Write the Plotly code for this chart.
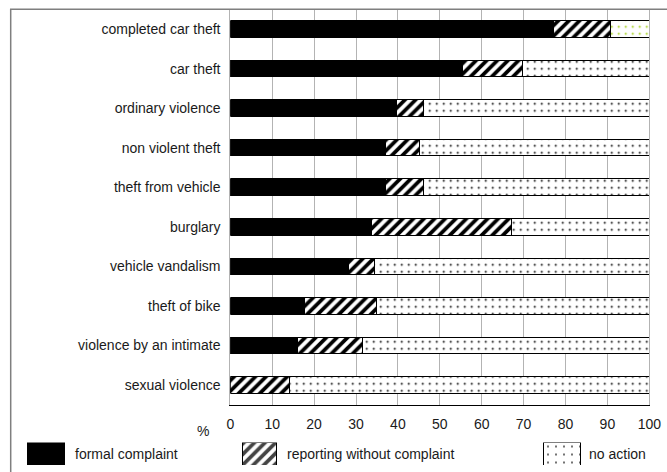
import plotly.graph_objects as go

W, H = 667, 472

categories = [
    "completed car theft", "car theft", "ordinary violence", "non violent theft",
    "theft from vehicle", "burglary", "vehicle vandalism", "theft of bike",
    "violence by an intimate", "sexual violence",
]
formal_complaint = [77.1, 55.5, 39.7, 37.0, 37.0, 33.8, 28.1, 17.6, 16.0, 0.0]
reporting_without_complaint = [13.7, 14.3, 6.4, 8.1, 9.2, 33.3, 6.2, 17.2, 15.6, 14.2]
no_action = [9.2, 30.2, 53.9, 54.9, 53.8, 32.9, 65.7, 65.2, 68.4, 85.8]
x_ticks = list(range(0, 101, 10))
series_names = ["formal complaint", "reporting without complaint", "no action"]

FONT = "Liberation Sans, Arial, sans-serif"
TXT = "#1a1a1a"
GRID = "#b3b3b3"

# pixel geometry -> paper
def px(x):
    return x / W

def py(y):
    return 1 - y / H

plot_l, plot_r, plot_t, plot_b = 230.3, 649.3, 9.3, 404.7

dot_colors = ["#99cc00"] + ["#000000"] * (len(categories) - 1)

HATCH = dict(shape="/", fgcolor="#000000", bgcolor="#ffffff", fgopacity=1,
             size=7.5, solidity=0.5, fillmode="overlay")

fig = go.Figure()
fig.add_trace(go.Bar(
    y=categories, x=formal_complaint, orientation="h", name=series_names[0],
    marker=dict(color="#000000", line=dict(color="#000000", width=1)),
    showlegend=False,
))
fig.add_trace(go.Bar(
    y=categories, x=reporting_without_complaint, orientation="h", name=series_names[1],
    marker=dict(color="#ffffff", line=dict(color="#000000", width=1), pattern=HATCH),
    showlegend=False,
))
fig.add_trace(go.Bar(
    y=categories, x=no_action, orientation="h", name=series_names[2],
    marker=dict(color="#ffffff", line=dict(color="#000000", width=1),
                pattern=dict(shape=".", fgcolor=dot_colors, bgcolor="#ffffff", fgopacity=1,
                             size=7, solidity=0.06, fillmode="overlay")),
    showlegend=False,
))

# legend swatches (drawn on a hidden pixel-scaled axis)
legend_x0 = [27.3, 242.3, 543.3]
legend_w = [36.7, 34.4, 37.4]
legend_text_x = [72.7, 285.0, 586.7]
fig.add_trace(go.Bar(
    y=[0.5, 0.5, 0.5], x=legend_w, base=legend_x0, orientation="h", width=1,
    xaxis="x2", yaxis="y2", showlegend=False, hoverinfo="skip",
    marker=dict(color=["#000000", "#ffffff", "#ffffff"],
                line=dict(color="#000000", width=1),
                pattern=dict(shape=["", "/", "."], fgcolor="#000000", bgcolor="#ffffff",
                             fgopacity=1, size=[7, 7.5, 8], solidity=[0.3, 0.5, 0.05],
                             fillmode="overlay")),
))

annotations = []
for name, tx in zip(series_names, legend_text_x):
    annotations.append(dict(
        text=name, x=px(tx), y=py(453.5), xref="paper", yref="paper",
        xanchor="left", yanchor="middle", showarrow=False,
        font=dict(family=FONT, size=14, color=TXT),
    ))
annotations.append(dict(
    text="%", x=px(203), y=py(431), xref="paper", yref="paper",
    xanchor="center", yanchor="middle", showarrow=False,
    font=dict(family=FONT, size=14, color=TXT),
))

fig.update_layout(
    width=W, height=H,
    margin=dict(l=0, r=0, t=0, b=0),
    paper_bgcolor="#ffffff", plot_bgcolor="#ffffff",
    barmode="stack", bargap=0.58,
    font=dict(family=FONT, size=14, color=TXT),
    xaxis=dict(
        domain=[px(plot_l), px(plot_r)], range=[0, 100], tickvals=x_ticks,
        showgrid=True, gridcolor=GRID, gridwidth=1, zeroline=False,
        showline=True, linecolor="#000000", linewidth=1, mirror=False,
        ticks="", ticklabelstandoff=6, tickfont=dict(family=FONT, size=14, color=TXT),
        automargin=False, fixedrange=True,
    ),
    yaxis=dict(
        domain=[py(plot_b), py(plot_t)], type="category",
        categoryorder="array", categoryarray=categories, autorange="reversed",
        showgrid=False, zeroline=False,
        showline=True, linecolor=GRID, linewidth=1, mirror=True,
        ticks="", ticklabelstandoff=6, tickfont=dict(family=FONT, size=14, color=TXT),
        automargin=False, fixedrange=True,
    ),
    xaxis2=dict(domain=[0, 1], range=[0, W], anchor="y2", visible=False, fixedrange=True),
    yaxis2=dict(domain=[py(465), py(442.5)], range=[0, 1], anchor="x2", visible=False, fixedrange=True),
    shapes=[dict(
        type="rect", xref="paper", yref="paper",
        x0=px(10.7), x1=1.05, y0=-0.05, y1=py(plot_t),
        line=dict(color="#7f7f7f", width=1.5), fillcolor="rgba(0,0,0,0)", layer="above",
    )],
    annotations=annotations,
)

fig.write_html("out.html")
